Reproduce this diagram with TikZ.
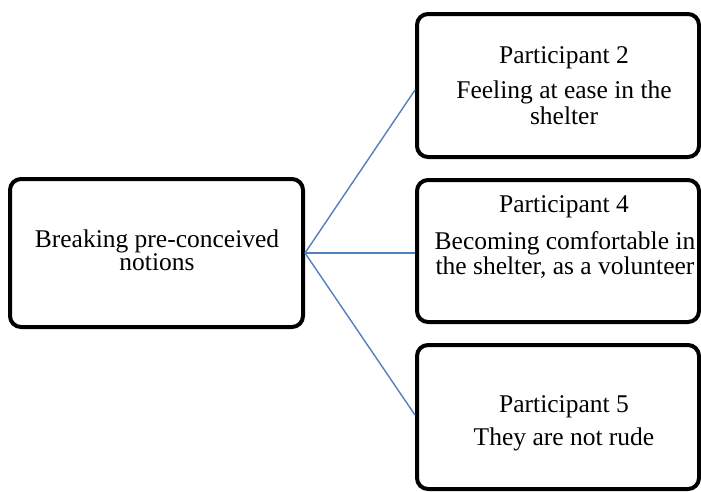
\documentclass[tikz,border=0pt]{standalone}
\usepackage{fontspec}
\setmainfont{Liberation Serif}
\begin{document}
\begin{tikzpicture}[x=1pt,y=-1pt,
  box/.style={draw=black,line width=4pt,rounded corners=11pt},
  txt/.style={anchor=base,inner sep=0pt,font=\fontsize{25.5}{30}\selectfont},
  link/.style={draw=linkblue,line width=1.4pt}]
\definecolor{linkblue}{HTML}{4F81BD}
\useasboundingbox (0,0) rectangle (701,491);
% boxes
\node[box,minimum width=293pt,minimum height=148pt,inner sep=0pt] (root) at (156.5,253) {};
\node[box,minimum width=282pt,minimum height=143pt,inner sep=0pt] (b1) at (558,85.5) {};
\node[box,minimum width=282pt,minimum height=142pt,inner sep=0pt] (b2) at (558,251) {};
\node[box,minimum width=282pt,minimum height=144pt,inner sep=0pt] (b3) at (558,417) {};
% connectors
\draw[link] (root.east) -- ([yshift=-4.5pt]b1.west);
\draw[link] (root.east) -- (b2.west |- root.east);
\draw[link] (root.east) -- ([yshift=2pt]b3.west);
% texts
\node[txt] (r1) at (157,247) {Breaking pre-conceived};
\node[txt] (r2) at (157,270) {notions};
\node[txt] (p2) at (564,63) {Participant 2};
\node[txt] (p2a) at (564,98) {Feeling at ease in the};
\node[txt] (p2b) at (564,124) {shelter};
\node[txt] (p4) at (564,212) {Participant 4};
\node[txt] (p4a) at (565,249) {Becoming comfortable in};
\node[txt] (p4b) at (565,274) {the shelter, as a volunteer};
\node[txt] (p5) at (564,412) {Participant 5};
\node[txt] (p5a) at (564,445) {They are not rude};
\end{tikzpicture}
\end{document}
